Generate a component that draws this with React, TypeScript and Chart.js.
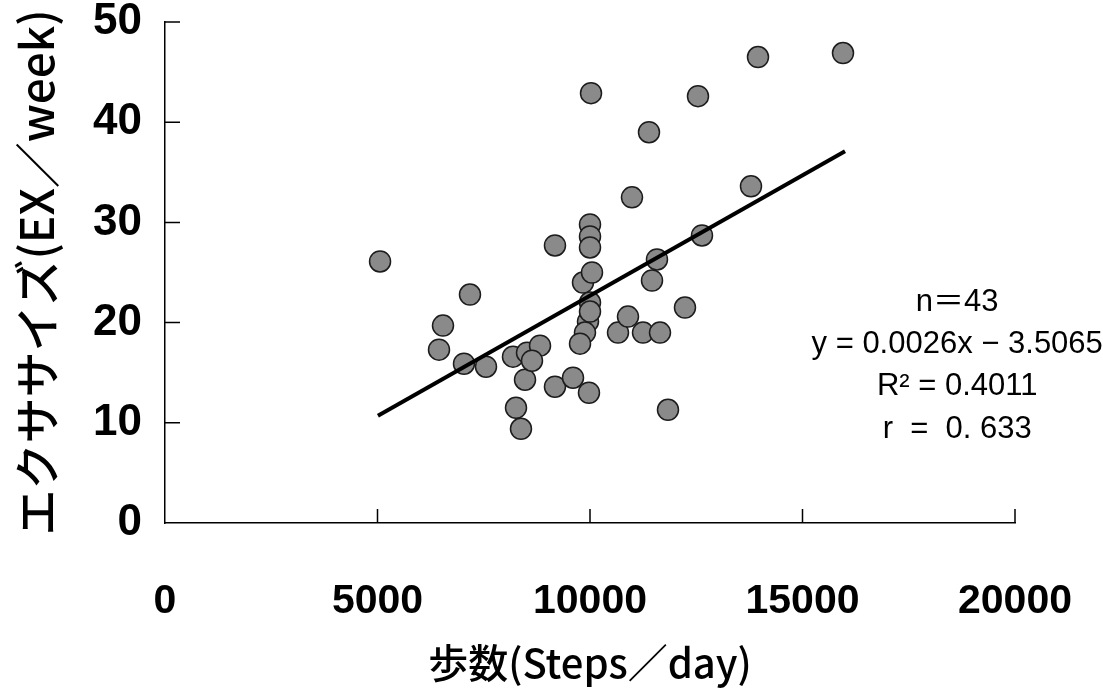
import React, { useEffect, useRef } from 'react';
import { Chart, registerables } from 'chart.js';

Chart.register(...registerables);

// Steps per day (x) and exercise EX/week (y)
const steps = [
  5060, 7176, 6541, 6447, 7035, 7553, 8188, 8518, 8824, 8471,
  8259, 8376, 9176, 9176, 9600, 9976, 10024, 10000, 10000, 10000,
  9835, 10047, 10000, 9953, 9882, 9765, 10659, 10894, 11247, 11647,
  10988, 11388, 11459, 11576, 11835, 12235, 12541, 12635, 13788, 13953,
  15953, 10000, 8635,
];
const exercise = [
  26.1, 22.8, 19.7, 17.3, 15.9, 15.6, 16.6, 17.0, 17.7, 14.3,
  11.5, 9.4, 27.7, 13.6, 14.5, 13.0, 42.9, 29.8, 28.6, 27.5,
  24.0, 25.0, 22.0, 20.1, 19.0, 17.9, 19.0, 20.6, 19.0, 19.0,
  32.5, 39.0, 24.2, 26.3, 11.3, 21.5, 42.6, 28.7, 33.6, 46.5,
  46.9, 21.1, 16.2,
];

// Regression line end points
const trendSteps = [5010, 16000];
const trendExercise = [10.7, 37.1];

const xTickValues = [0, 5000, 10000, 15000, 20000];
const yTickValues = [0, 10, 20, 30, 40, 50];

const xTitle = '歩数(Steps／day)';
const yTitle = 'エクササイズ(EX／week)';

const statLines = ['n＝43', 'y = 0.0026x − 3.5065', 'R² = 0.4011', 'r  =  0. 633'];
const statAnchorX = 18640;
const statAnchorY = [22.0, 17.8, 13.6, 9.3];

const FONT = "'Liberation Sans', 'Noto Sans CJK JP', Arial, sans-serif";
const CJK_FONT = "'Noto Sans CJK JP', 'Liberation Sans', sans-serif";

const innerTicks = {
  id: 'innerTicks',
  afterDraw(chart: any) {
    const { ctx } = chart;
    const x = chart.scales.x;
    const y = chart.scales.y;
    ctx.save();
    ctx.strokeStyle = '#000';
    ctx.lineWidth = 1.5;
    ctx.beginPath();
    x.ticks.forEach((t: any) => {
      if (t.value === 0) return;
      const px = x.getPixelForValue(t.value);
      ctx.moveTo(px, y.bottom);
      ctx.lineTo(px, y.bottom - 14);
    });
    y.ticks.forEach((t: any) => {
      if (t.value === 0) return;
      const py = y.getPixelForValue(t.value);
      ctx.moveTo(x.left, py);
      ctx.lineTo(x.left + 15, py);
    });
    ctx.stroke();
    ctx.restore();
  },
};

const statsText = {
  id: 'statsText',
  afterDraw(chart: any) {
    const { ctx } = chart;
    const x = chart.scales.x;
    const y = chart.scales.y;
    ctx.save();
    ctx.fillStyle = '#000';
    ctx.textAlign = 'center';
    ctx.textBaseline = 'middle';
    ctx.font = `31px ${FONT}`;
    const cx = x.getPixelForValue(statAnchorX);
    statLines.forEach((line, i) => {
      ctx.fillText(line, cx, y.getPixelForValue(statAnchorY[i]));
    });
    ctx.restore();
  },
};

const zeroPadding = (scale: any) => {
  scale.paddingTop = 0;
  scale.paddingBottom = 0;
  scale.paddingLeft = 0;
  scale.paddingRight = 0;
};

export default function App() {
  const canvasRef = useRef<HTMLCanvasElement | null>(null);

  useEffect(() => {
    if (!canvasRef.current) return;
    const chart = new Chart(canvasRef.current, {
      type: 'scatter',
      data: {
        datasets: [
          {
            label: 'trend',
            data: trendSteps.map((v, i) => ({ x: v, y: trendExercise[i] })),
            showLine: true,
            borderColor: '#000',
            borderWidth: 4,
            pointRadius: 0,
            fill: false,
            order: 0,
          },
          {
            label: 'data',
            data: steps.map((v, i) => ({ x: v, y: exercise[i] })),
            pointRadius: 10.5,
            pointBackgroundColor: '#8a8a8a',
            pointBorderColor: '#1c1c1c',
            pointBorderWidth: 1.5,
            order: 1,
          },
        ],
      },
      options: {
        animation: false,
        responsive: false,
        devicePixelRatio: 1,
        layout: { padding: { top: 22, right: 88, left: 0, bottom: 0 } },
        plugins: {
          legend: { display: false },
          tooltip: { enabled: false },
        },
        scales: {
          x: {
            type: 'linear',
            min: 0,
            max: 20000,
            afterBuildTicks: (scale: any) => {
              scale.ticks = xTickValues.map((v) => ({ value: v }));
            },
            afterFit: (scale: any) => {
              scale.height = 167;
              zeroPadding(scale);
            },
            grid: { display: false },
            border: { display: true, color: '#000', width: 1.5 },
            ticks: {
              color: '#000',
              padding: 50,
              maxRotation: 0,
              font: { family: FONT, size: 41, weight: 'bold', lineHeight: 1 },
              callback: (v: any) => String(v),
            },
            title: {
              display: true,
              text: xTitle,
              color: '#000',
              font: { family: CJK_FONT, size: 40, weight: '500', lineHeight: 1.2 },
              padding: { top: 0, bottom: 3 },
            },
          },
          y: {
            type: 'linear',
            min: 0,
            max: 50,
            afterBuildTicks: (scale: any) => {
              scale.ticks = yTickValues.map((v) => ({ value: v }));
            },
            afterFit: (scale: any) => {
              scale.width = 165;
              zeroPadding(scale);
            },
            grid: { display: false },
            border: { display: true, color: '#000', width: 1.5 },
            ticks: {
              color: '#000',
              padding: 15,
              font: { family: FONT, size: 44, weight: 'bold', lineHeight: 1 },
              callback: (v: any) => String(v),
            },
            title: {
              display: true,
              text: yTitle,
              color: '#000',
              font: { family: CJK_FONT, size: 46, weight: '500', lineHeight: 1.2 },
              padding: { top: 9, bottom: 0 },
            },
          },
        },
      },
      plugins: [innerTicks, statsText],
    });
    return () => chart.destroy();
  }, []);

  return (
    <div style={{ position: 'absolute', left: 0, top: 0, width: 1103, height: 690, background: '#fff' }}>
      <canvas ref={canvasRef} width={1103} height={690} />
    </div>
  );
}
